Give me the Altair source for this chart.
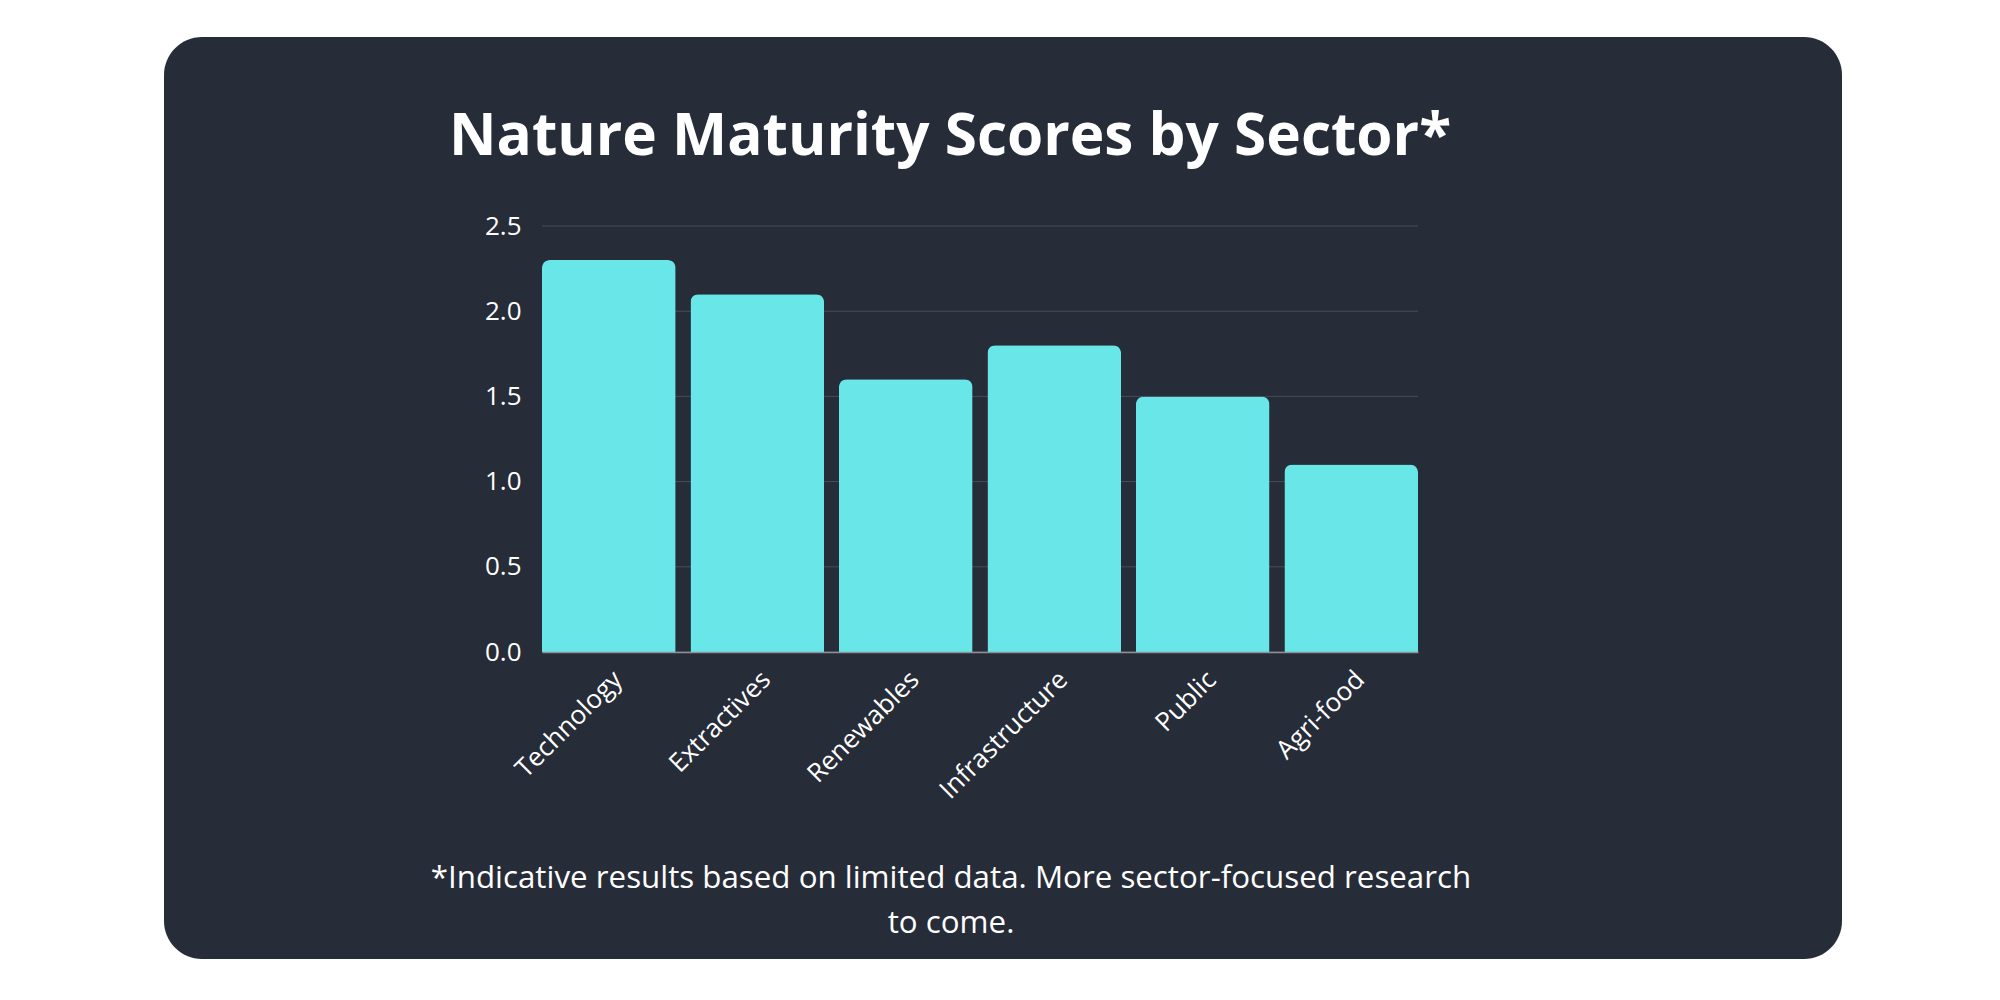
import altair as alt
import pandas as pd

# ---- data ----
sectors = ["Technology", "Extractives", "Renewables", "Infrastructure", "Public", "Agri-food"]
scores = [2.3, 2.1, 1.6, 1.8, 1.5, 1.1]
y_ticks = [0.0, 0.5, 1.0, 1.5, 2.0, 2.5]
title_text = "Nature Maturity Scores by Sector*"
footnote_lines = [
    "*Indicative results based on limited data. More sector-focused research",
    "to come.",
]

df = pd.DataFrame({"sector": sectors, "score": scores})
grid_df = pd.DataFrame({"score": y_ticks})
one = pd.DataFrame({"k": [0]})

CARD = "#262c38"
BAR = "#69e6e8"
FONT = "Open Sans"

W, H = 876, 426

yscale = alt.Scale(domain=[0, 2.5], nice=False)
yaxis = alt.Axis(
    title=None, values=y_ticks, format=".1f", labelFont=FONT,
    labelFontSize=26, labelColor="#ffffff", ticks=False, domain=False,
    grid=False, labelPadding=21, zindex=1,
)

card = alt.Chart(one).mark_rect(color=CARD, cornerRadius=38).encode(
    x=alt.value(-378), x2=alt.value(1300), y=alt.value(-189), y2=alt.value(733)
)

grid = alt.Chart(grid_df).mark_rule(color="#474d59", strokeWidth=1).encode(
    y=alt.Y("score:Q", scale=yscale, axis=yaxis)
)

bars = alt.Chart(df).mark_bar(
    color=BAR, cornerRadiusTopLeft=8, cornerRadiusTopRight=8
).encode(
    x=alt.X(
        "sector:N",
        sort=sectors,
        scale=alt.Scale(paddingInner=0.1, paddingOuter=0),
        axis=alt.Axis(
            title=None, labelAngle=-45, labelFont=FONT, labelFontSize=26,
            labelColor="#ffffff", ticks=False, domainColor="#8d929a",
            domainWidth=1.5, labelPadding=14, zindex=1,
        ),
    ),
    y=alt.Y("score:Q", scale=yscale, axis=yaxis),
)

title = alt.Chart(one).mark_text(
    text=title_text, font=FONT, fontSize=58.5, fontWeight="bold", color="#ffffff",
    align="center", baseline="alphabetic",
).encode(x=alt.value(408), y=alt.value(-71))

footnote = alt.Chart(one).mark_text(
    text=footnote_lines, font=FONT, fontSize=31.3, color="#ffffff",
    align="center", baseline="alphabetic", lineHeight=45,
).encode(x=alt.value(409), y=alt.value(662))

chart = alt.layer(card, grid, bars, title, footnote).properties(
    width=W, height=H,
    autosize=alt.AutoSizeParams(type="none"),
    padding={"left": 534, "top": 218, "right": 574, "bottom": 340},
    background="#ffffff",
).configure_view(stroke=None)

chart.save("out.html", embed_options={"renderer": "svg", "actions": False})
